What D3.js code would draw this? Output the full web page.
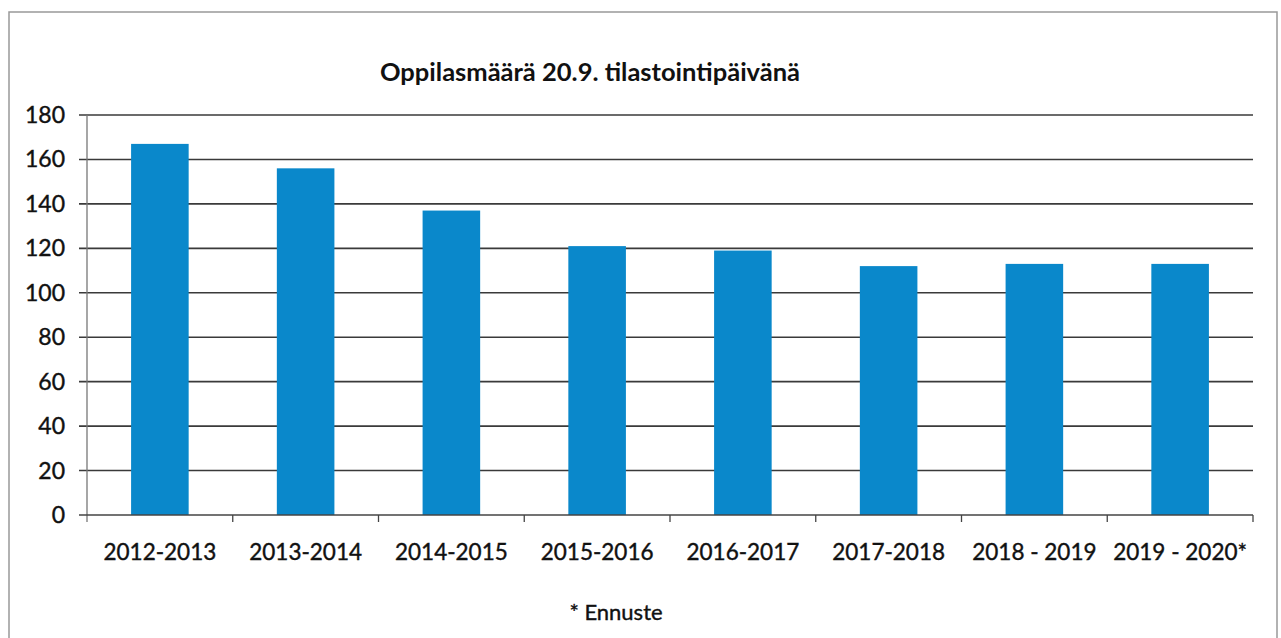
<!DOCTYPE html>
<html><head><meta charset="utf-8">
<script src="https://cdn.jsdelivr.net/npm/d3@7"></script>
<style>body{margin:0;background:#fff}svg{display:block}</style>
</head><body>
<svg id="c" width="1281" height="638"></svg>
<script>
const categories = ["2012-2013","2013-2014","2014-2015","2015-2016","2016-2017","2017-2018","2018 - 2019","2019 - 2020*"];
const values = [167, 156, 137, 121, 119, 112, 113, 113];
const yTicks = [0,20,40,60,80,100,120,140,160,180];
const title = "Oppilasmäärä 20.9. tilastointipäivänä";
const note = "* Ennuste";

const svg = d3.select("#c");
const font = "Lato, 'Open Sans', sans-serif";
// frame
svg.append("rect").attr("x",9).attr("y",12).attr("width",1268).attr("height",640)
  .attr("fill","none").attr("stroke","#999").attr("stroke-width",1.5);

const x = d3.scaleBand().domain(categories).range([87,1253]).paddingInner(0.605).paddingOuter(0.3025);
const xb = d3.scaleBand().domain(categories).range([87,1253]);
const y = d3.scaleLinear().domain([0,180]).range([515,115]);

// gridlines
svg.append("g").selectAll("line").data(yTicks.filter(d=>d>0)).join("line")
  .attr("x1",79).attr("x2",1253).attr("y1",d=>y(d)).attr("y2",d=>y(d))
  .attr("stroke","#3a3a3a").attr("stroke-width",1.6);

// bars
svg.append("g").selectAll("rect").data(values).join("rect")
  .attr("x",(d,i)=>x(categories[i])).attr("width",x.bandwidth())
  .attr("y",d=>y(d)).attr("height",d=>y(0)-y(d)).attr("fill","#0a88cb");

// y axis line + ticks
svg.append("line").attr("x1",87).attr("x2",87).attr("y1",y(180)).attr("y2",522)
  .attr("stroke","#777").attr("stroke-width",1.3);
svg.append("line").attr("x1",79).attr("x2",1253).attr("y1",y(0)).attr("y2",y(0))
  .attr("stroke","#444").attr("stroke-width",1.5);
// x ticks at band boundaries
svg.append("g").selectAll("line").data(categories.slice(1).concat([null])).join("line")
  .attr("x1",(d,i)=> d? xb(d) : 1253).attr("x2",(d,i)=> d? xb(d) : 1253)
  .attr("y1",y(0)).attr("y2",522).attr("stroke","#444").attr("stroke-width",1.3);

// y labels
svg.append("g").selectAll("text").data(yTicks).join("text")
  .attr("x",65).attr("y",d=>y(d)+8).attr("text-anchor","end")
  .attr("font-family",font).attr("font-size",23).attr("fill","#111")
  .attr("stroke","#111").attr("stroke-width",0.4).text(d=>d);

// x labels
svg.append("g").selectAll("text").data(categories).join("text")
  .attr("x",d=>xb(d)+xb.bandwidth()/2).attr("y",560).attr("text-anchor","middle")
  .attr("font-family",font).attr("font-size",22.5).attr("fill","#111")
  .attr("stroke","#111").attr("stroke-width",0.4).text(d=>d);

svg.append("text").attr("x",590).attr("y",81).attr("text-anchor","middle")
  .attr("font-family",font).attr("font-weight","bold").attr("font-size",25.5).attr("fill","#111").text(title);

svg.append("text").attr("x",616).attr("y",620).attr("text-anchor","middle")
  .attr("font-family",font).attr("font-size",22).attr("fill","#111")
  .attr("stroke","#111").attr("stroke-width",0.4).text(note);
</script>
</body></html>
